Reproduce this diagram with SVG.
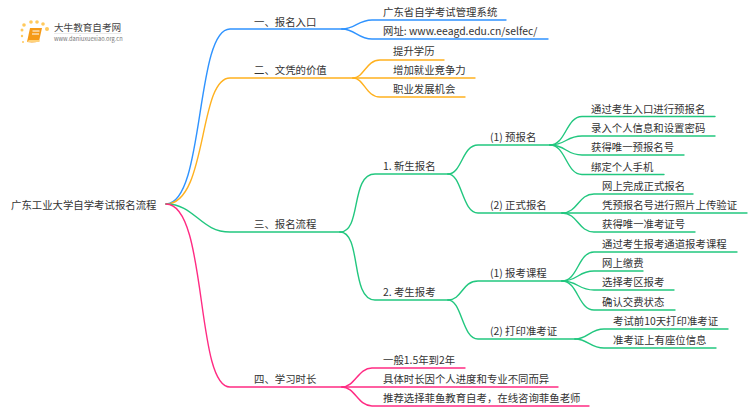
<svg xmlns="http://www.w3.org/2000/svg" width="750" height="410" viewBox="0 0 750 410">
<style>
text{font-family:"Noto Sans CJK SC","Noto Sans",sans-serif;font-size:10.4px;fill:#333}
.c path{fill:none;stroke-width:1.4;stroke-linecap:round}
.b path{stroke:#2f93ff}.o path{stroke:#ffb11f}.g path{stroke:#22c77f}.p path{stroke:#ff2b83}
</style>
<rect width="750" height="410" fill="#fff"/>
<g id="connectors" class="c">
<g class="b">
<path d="M166 204C205 204 195 29 230 29H342"/>
<path d="M342 29C355 29 358 20 372 20H506"/>
<path d="M342 29C355 29 358 39 372 39H548"/>
</g>
<g class="o">
<path d="M166 204C208 204 198 78 230 78H353"/>
<path d="M353 78C364 78 366 60 380 60H444"/>
<path d="M353 78H475"/>
<path d="M353 78C364 78 366 97 380 97H465"/>
</g>
<g class="g">
<path d="M166 204C195 204 200 232 230 232H340"/>
<path d="M340 232C362 232 350 174 375 174H448"/>
<path d="M340 232C362 232 350 300 375 300H448"/>
<path d="M448 174C462 174 462 145 478 145H550"/>
<path d="M448 174C462 174 462 213 478 213H562"/>
<path d="M448 300C462 300 462 281 478 281H562"/>
<path d="M448 300C462 300 462 339 478 339H575"/>
<path d="M550 145C566 145 566 116.500 582 116.500H715"/>
<path d="M550 145C566 145 566 136 582 136H715"/>
<path d="M550 145C566 145 566 155 582 155H684"/>
<path d="M550 145C566 145 566 174.500 582 174.500H664"/>
<path d="M562 213C578 213 578 194 594 194H693"/>
<path d="M562 213H747"/>
<path d="M562 213C578 213 578 232 594 232H695"/>
<path d="M562 281C578 281 578 252 594 252H737"/>
<path d="M562 281C578 281 578 271 594 271H643"/>
<path d="M562 281C578 281 578 290 594 290H674"/>
<path d="M562 281C578 281 578 310 594 310H675"/>
<path d="M575 339C588 339 590 329 604 329H728"/>
<path d="M575 339C588 339 590 348 604 348H716"/>
</g>
<g class="p">
<path d="M166 204C208 204 195 387 230 387H342"/>
<path d="M342 387C355 387 358 368 372 368H465"/>
<path d="M342 387H558"/>
<path d="M342 387C355 387 358 406 372 406H589"/>
</g>
</g>
<g id="logo">
<g fill="#ffc95c">
<circle cx="24" cy="25" r="1.800"/><circle cx="31" cy="22" r="1.800"/><circle cx="37" cy="22" r="1.800"/><circle cx="43" cy="24" r="1.800"/><circle cx="47" cy="29" r="2"/><circle cx="22" cy="30" r="1.500"/><circle cx="22" cy="36" r="1.200"/><circle cx="23" cy="42" r="1"/>
</g>
<path d="M30 28H42L39 41.500Q33 43 27 42Z" fill="#f59a17"/>
<path d="M27 42H39.500V40H29Z" fill="#ffd27a"/>
<path d="M32.500 31H39.500M32 34H39" stroke="#fff" stroke-width="1" fill="none"/>
<text x="54" y="31" style="font-size:9.600px;fill:#444">大牛教育自考网</text>
<path d="M54 33.500H122" stroke="#ddd" stroke-width="0.600"/>
<text x="54" y="41" style="font-size:5.700px;fill:#777">www.daniuxuexiao.org.cn</text>
</g>
<g id="root"><text x="11" y="209">广东工业大学自学考试报名流程</text></g>
<g id="n1"><text x="254" y="26">一、报名入口</text></g>
<g id="n1-1"><text x="383" y="16">广东省自学考试管理系统</text></g>
<g id="n1-2"><text x="383" y="35">网址: www.eeagd.edu.cn/selfec/</text></g>
<g id="n2"><text x="254" y="74">二、文凭的价值</text></g>
<g id="n2-1"><text x="393" y="55">提升学历</text></g>
<g id="n2-2"><text x="393" y="74">增加就业竞争力</text></g>
<g id="n2-3"><text x="393" y="93">职业发展机会</text></g>
<g id="n3"><text x="254" y="228">三、报名流程</text></g>
<g id="n3-1"><text x="383" y="170">1. 新生报名</text></g>
<g id="n3-1-1"><text x="490" y="141">(1) 预报名</text></g>
<g id="n3-1-1-1"><text x="591" y="112.500">通过考生入口进行预报名</text></g>
<g id="n3-1-1-2"><text x="591" y="132">录入个人信息和设置密码</text></g>
<g id="n3-1-1-3"><text x="591" y="151">获得唯一预报名号</text></g>
<g id="n3-1-1-4"><text x="591" y="170.500">绑定个人手机</text></g>
<g id="n3-1-2"><text x="490" y="209">(2) 正式报名</text></g>
<g id="n3-1-2-1"><text x="602" y="190">网上完成正式报名</text></g>
<g id="n3-1-2-2"><text x="602" y="209">凭预报名号进行照片上传验证</text></g>
<g id="n3-1-2-3"><text x="602" y="228">获得唯一准考证号</text></g>
<g id="n3-2"><text x="383" y="296">2. 考生报考</text></g>
<g id="n3-2-1"><text x="490" y="277">(1) 报考课程</text></g>
<g id="n3-2-1-1"><text x="602" y="248">通过考生报考通道报考课程</text></g>
<g id="n3-2-1-2"><text x="602" y="267">网上缴费</text></g>
<g id="n3-2-1-3"><text x="602" y="286">选择考区报考</text></g>
<g id="n3-2-1-4"><text x="602" y="306">确认交费状态</text></g>
<g id="n3-2-2"><text x="490" y="335">(2) 打印准考证</text></g>
<g id="n3-2-2-1"><text x="613" y="325">考试前10天打印准考证</text></g>
<g id="n3-2-2-2"><text x="613" y="344">准考证上有座位信息</text></g>
<g id="n4"><text x="254" y="383">四、学习时长</text></g>
<g id="n4-1"><text x="383" y="364">一般1.5年到2年</text></g>
<g id="n4-2"><text x="383" y="383">具体时长因个人进度和专业不同而异</text></g>
<g id="n4-3"><text x="383" y="402">推荐选择菲鱼教育自考，在线咨询菲鱼老师</text></g>
</svg>
